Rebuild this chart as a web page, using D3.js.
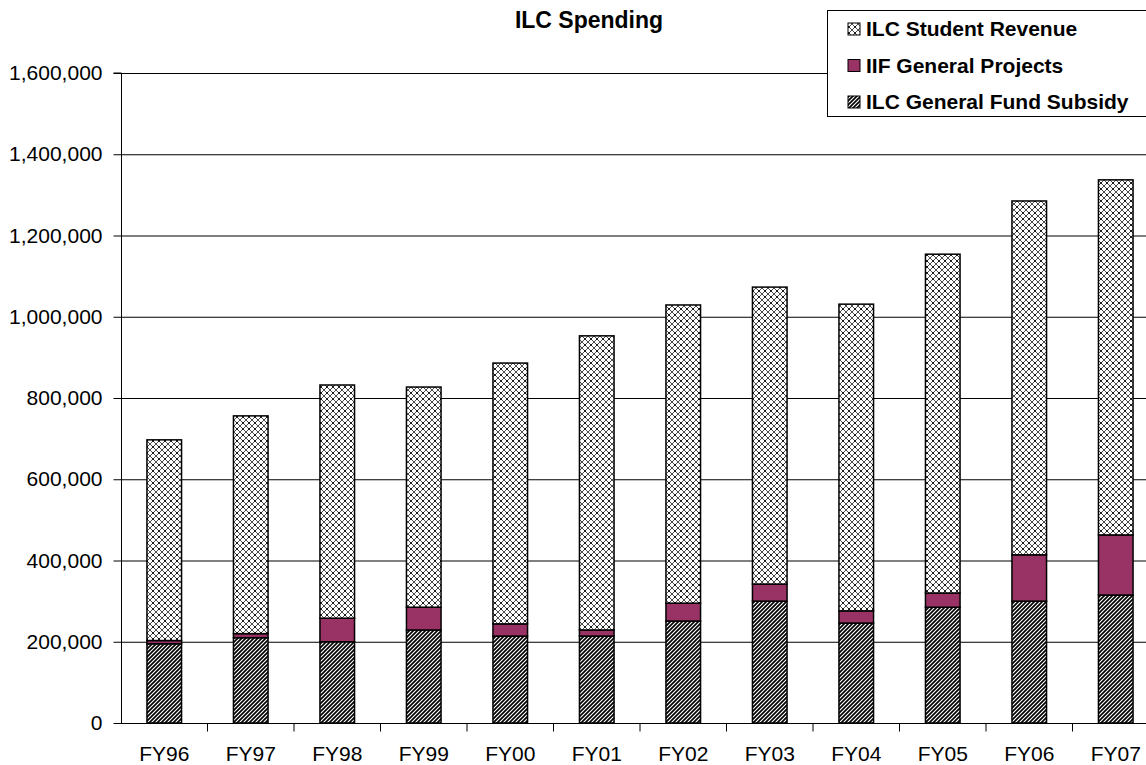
<!DOCTYPE html>
<html>
<head>
<meta charset="utf-8">
<script src="https://cdn.jsdelivr.net/npm/d3@7"></script>
<style>
  body { margin: 0; background: #fff; }
  text { font-family: "Liberation Sans", Arial, sans-serif; }
</style>
</head>
<body>
<script>
// chart values
var years = ["FY96", "FY97", "FY98", "FY99", "FY00", "FY01", "FY02", "FY03", "FY04", "FY05", "FY06", "FY07"];
var subsidy = [195000, 210000, 200000, 229000, 214000, 214000, 251000, 300000, 246000, 285000, 300000, 315000];
var iif = [8000, 10000, 58000, 56000, 30000, 15000, 44000, 42000, 30000, 35000, 114000, 148000];
var revenue = [494000, 536000, 574000, 542000, 642000, 724000, 734000, 731000, 755000, 834000, 871000, 874000];
var yTicks = [0, 200000, 400000, 600000, 800000, 1000000, 1200000, 1400000, 1600000];

var seriesNames = ["ILC General Fund Subsidy", "IIF General Projects", "ILC Student Revenue"];

var W = 1146, H = 765;
var margin = {left: 121, top: 73, bottom: 42};
var plotRight = 1159;
var fontSize = 21;

var svg = d3.select("body").append("svg")
    .attr("width", W)
    .attr("height", H);

var defs = svg.append("defs");

// diagonal stripe pattern (subsidy)
var stripes = defs.append("pattern")
    .attr("id", "stripes")
    .attr("patternUnits", "userSpaceOnUse")
    .attr("width", 4).attr("height", 4);
stripes.append("rect").attr("width", 4).attr("height", 4).attr("fill", "#fff");
stripes.append("path")
    .attr("d", "M-1,1 l2,-2 M0,4 l4,-4 M3,5 l2,-2")
    .attr("stroke", "#000").attr("stroke-width", 1.7);

// cross-hatch pattern (student revenue)
var cross = defs.append("pattern")
    .attr("id", "cross")
    .attr("patternUnits", "userSpaceOnUse")
    .attr("width", 6).attr("height", 6);
cross.append("rect").attr("width", 6).attr("height", 6).attr("fill", "#fff");
cross.append("path")
    .attr("d", "M0,0 L6,6 M6,0 L0,6")
    .attr("stroke", "#000").attr("stroke-width", 0.7);
cross.append("rect").attr("x", 2.2).attr("y", 2.2).attr("width", 1.6).attr("height", 1.6).attr("fill", "#000");

var fills = ["url(#stripes)", "#993366", "url(#cross)"];

var x = d3.scaleBand()
    .domain(years)
    .range([margin.left, plotRight])
    .paddingInner(0.6)
    .paddingOuter(0.3);

var y = d3.scaleLinear()
    .domain([0, 1600000])
    .range([H - margin.bottom, margin.top]);

// gridlines
svg.append("g")
    .selectAll("line")
    .data(yTicks.slice(1))
    .enter().append("line")
    .attr("x1", margin.left).attr("x2", plotRight)
    .attr("y1", function(d) { return y(d) + 0.5; })
    .attr("y2", function(d) { return y(d) + 0.5; })
    .attr("stroke", "#000").attr("stroke-width", 1);

// stacked bars
var rows = years.map(function(yr, i) {
  return {year: yr, s0: subsidy[i], s1: iif[i], s2: revenue[i]};
});
var stack = d3.stack().keys(["s0", "s1", "s2"])(rows);

svg.append("g")
    .selectAll("g")
    .data(stack)
    .enter().append("g")
    .attr("fill", function(d, i) { return fills[i]; })
    .selectAll("rect")
    .data(function(d) { return d; })
    .enter().append("rect")
    .attr("x", function(d) { return x(d.data.year); })
    .attr("y", function(d) { return y(d[1]); })
    .attr("width", x.bandwidth())
    .attr("height", function(d) { return y(d[0]) - y(d[1]); })
    .attr("stroke", "#000")
    .attr("stroke-width", 1.5);

// y axis
var yAxis = d3.axisLeft(y)
    .tickValues(yTicks)
    .tickSize(8)
    .tickFormat(d3.format(","));
var yg = svg.append("g")
    .attr("transform", "translate(" + (margin.left + 0.5) + ",0)")
    .call(yAxis);
yg.selectAll("text").attr("font-size", fontSize).attr("fill", "#000").attr("dx", -8)
    .style("font-family", "'Liberation Sans', Arial, sans-serif");
yg.selectAll("line").attr("stroke", "#000");
yg.select(".domain").attr("stroke", "#000").attr("d", "M-8," + y(1600000) + "H0V" + y(0));

// x axis
var xg = svg.append("g")
    .attr("transform", "translate(0," + (y(0) + 0.5) + ")");
xg.append("line")
    .attr("x1", margin.left).attr("x2", plotRight)
    .attr("stroke", "#000");
var step = x.step();
xg.selectAll("line.tick")
    .data(years)
    .enter().append("line")
    .attr("class", "tick")
    .attr("x1", function(d) { return x(d) + x.bandwidth() / 2 + step / 2; })
    .attr("x2", function(d) { return x(d) + x.bandwidth() / 2 + step / 2; })
    .attr("y1", 0).attr("y2", 8)
    .attr("stroke", "#000");
xg.selectAll("text")
    .data(years)
    .enter().append("text")
    .attr("x", function(d) { return x(d) + x.bandwidth() / 2; })
    .attr("y", 37)
    .attr("text-anchor", "middle")
    .attr("font-size", fontSize)
    .text(function(d) { return d; });

// title
svg.append("text")
    .attr("x", 589).attr("y", 28)
    .attr("text-anchor", "middle")
    .attr("font-size", 23)
    .attr("font-weight", "bold")
    .text("ILC Spending");

// legend
var leg = svg.append("g");
leg.append("rect")
    .attr("x", 827.5).attr("y", 10.5)
    .attr("width", 330).attr("height", 106)
    .attr("fill", "#fff").attr("stroke", "#000");
var legOrder = [2, 1, 0];
var legRows = leg.selectAll("g.item")
    .data(legOrder)
    .enter().append("g")
    .attr("class", "item")
    .attr("transform", function(d, i) { return "translate(0," + (36 + i * 36.5) + ")"; });
legRows.append("rect")
    .attr("x", 848).attr("y", -13)
    .attr("width", 12).attr("height", 12)
    .attr("fill", function(d) { return fills[d]; })
    .attr("stroke", "#000").attr("stroke-width", 1);
legRows.append("text")
    .attr("x", 866).attr("y", 0)
    .attr("font-size", fontSize)
    .attr("font-weight", "bold")
    .text(function(d) { return seriesNames[d]; });
</script>
</body>
</html>
